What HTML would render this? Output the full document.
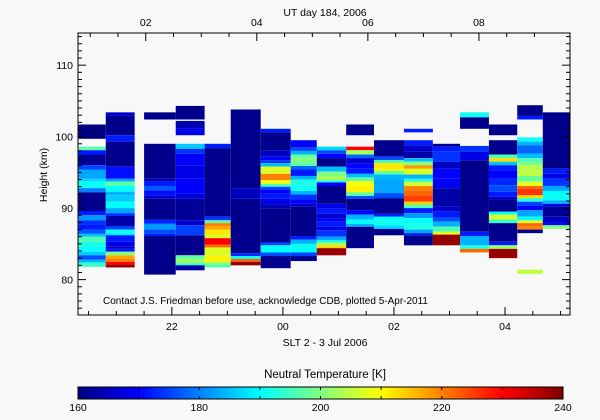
<!DOCTYPE html>
<html><head><meta charset="utf-8"><style>
html,body{margin:0;padding:0;background:#f8f8f8;}
svg{display:block;font-family:"Liberation Sans",sans-serif;}
</style></head><body>
<svg id="chart" width="600" height="420" viewBox="0 0 600 420" xmlns="http://www.w3.org/2000/svg">
<rect x="0" y="0" width="600" height="420" fill="#f8f8f8"/>
<g id="cells"></g>
<g id="axes"></g>
<text x="325" y="16" font-size="10.5" text-anchor="middle">UT day 184, 2006</text>
<text x="325" y="346" font-size="10.5" text-anchor="middle">SLT 2 - 3 Jul 2006</text>
<text transform="translate(47,175) rotate(-90)" font-size="10.5" text-anchor="middle">Height (km)</text>
<text x="103" y="304" font-size="10">Contact J.S. Friedman before use, acknowledge CDB, plotted 5-Apr-2011</text>
<text x="325" y="378" font-size="11.5" text-anchor="middle">Neutral Temperature [K]</text>
<g id="cbar"></g>
</svg>
<script>
// column time spans (SLT hours, past midnight continues >24)
const colStart = [20.32,20.81,21.50,22.07,22.59,23.06,23.60,24.14,24.61,25.14,25.64,26.18,26.70,27.19,27.71,28.22,28.68];
const colEnd   = [20.81,21.33,22.07,22.59,23.06,23.60,24.14,24.61,25.14,25.64,26.18,26.70,27.19,27.71,28.22,28.68,29.17];
const colBottom = [81.8,81.7,80.7,81.3,81.7,82.0,81.6,82.6,83.4,84.4,86.2,84.8,84.8,83.8,83.0,80.8,87.1];
// each column: [topKm, temperatureK] from top down; null = no data
const colCells = [
 [[101.7,160],[99.7,null],[98.6,197],[98.1,172],[97.5,162],[96.0,175],[95.4,183],[94.1,187],[93.7,191],[92.8,180],[92.2,161],[89.6,172],[89.0,182],[88.3,174],[87.7,172],[87.0,177],[86.4,185],[86.0,196],[85.3,192],[84.6,190],[83.9,186],[83.4,176],[82.8,184],[82.4,194]],
 [[103.4,166],[102.9,161],[100.2,172],[99.3,161],[95.8,171],[94.1,183],[93.7,197],[93.1,190],[92.3,184],[91.8,186],[90.9,190],[90.0,183],[89.3,174],[88.9,163],[87.5,175],[87.0,191],[86.5,188],[86.2,172],[85.3,168],[84.6,165],[84.3,172],[83.9,200],[83.4,217],[82.9,220],[82.5,230],[82.1,238]],
 [[103.4,161],[102.4,null],[99.0,161],[94.1,165],[93.7,172],[93.1,177],[92.5,171],[91.8,166],[91.3,161],[88.4,173],[87.8,182],[87.0,176],[86.4,172],[86.1,161]],
 [[104.3,161],[102.4,null],[102.2,164],[101.2,168],[100.2,null],[99.0,186],[98.3,174],[97.6,170],[96.0,168],[94.1,170],[92.0,167],[91.3,162],[88.3,166],[87.6,175],[86.2,161],[83.4,197],[82.9,202],[82.3,194],[82.0,163]],
 [[99.0,172],[98.4,161],[88.8,174],[88.3,197],[87.9,220],[87.5,217],[87.0,212],[86.3,207],[85.8,230],[84.9,222],[84.5,207],[83.4,211],[82.5,202],[82.1,196]],
 [[103.8,161],[92.8,165],[91.3,161],[83.7,173],[83.3,190],[82.9,222],[82.5,238]],
 [[101.1,172],[100.6,161],[98.1,165],[97.2,170],[96.7,174],[96.3,185],[95.8,208],[95.4,207],[94.8,220],[93.9,210],[93.4,196],[93.0,176],[92.6,170],[92.0,172],[91.3,168],[90.5,164],[89.9,161],[85.2,175],[84.8,190],[83.8,176],[83.3,161]],
 [[99.5,170],[98.5,175],[98.0,184],[97.5,198],[97.0,200],[96.4,197],[95.9,178],[95.4,172],[94.5,184],[94.0,192],[93.2,191],[92.4,184],[91.9,174],[91.2,170],[90.6,166],[90.2,161],[86.1,172],[85.6,184],[85.0,191],[84.5,190],[83.8,175],[83.3,161]],
 [[98.6,187],[98.1,176],[97.6,170],[97.0,161],[95.8,185],[95.1,200],[94.5,203],[93.9,193],[93.6,170],[93.1,161],[90.6,168],[89.9,172],[89.2,166],[88.5,170],[88.1,172],[87.4,168],[86.9,174],[86.0,183],[85.5,191],[85.2,203],[84.8,213],[84.4,238]],
 [[101.7,161],[100.2,null],[98.6,230],[98.1,203],[97.5,178],[97.0,166],[96.2,170],[95.5,172],[94.8,185],[94.3,197],[93.8,209],[93.1,211],[92.2,197],[91.7,176],[91.3,161],[89.7,170],[89.1,184],[88.4,190],[87.8,184],[87.4,161]],
 [[99.5,161],[97.2,176],[96.7,196],[96.3,212],[95.6,211],[95.2,197],[94.7,184],[94.0,183],[92.1,176],[91.4,161],[89.2,172],[88.8,190],[88.3,191],[87.6,187],[87.1,161]],
 [[101.1,172],[100.6,null],[99.5,172],[98.8,166],[97.9,163],[97.0,185],[96.5,200],[96.0,218],[95.5,207],[94.7,184],[94.1,192],[93.7,206],[93.1,220],[92.5,222],[91.8,225],[90.9,214],[90.5,196],[90.0,172],[89.3,182],[88.6,190],[87.9,192],[87.0,183],[86.5,172],[86.2,161]],
 [[99.0,161],[98.6,172],[97.9,174],[96.5,165],[95.5,170],[94.1,169],[92.8,163],[90.2,166],[89.5,172],[88.7,176],[88.1,184],[87.4,196],[86.7,208],[86.3,238]],
 [[103.4,191],[102.7,161],[101.1,null],[98.7,174],[97.9,168],[96.7,161],[86.7,172],[86.1,184],[84.8,192],[84.3,222]],
 [[101.7,161],[100.2,null],[99.5,161],[97.5,196],[97.0,213],[96.5,185],[96.0,172],[95.2,170],[94.1,173],[93.2,176],[92.3,172],[91.6,166],[91.2,161],[89.5,190],[89.1,207],[88.4,194],[87.9,161],[85.3,172],[84.8,202],[84.3,238]],
 [[104.4,161],[102.9,172],[102.4,null],[99.9,191],[99.3,184],[98.8,178],[97.6,185],[97.0,196],[96.4,200],[96.0,204],[95.3,205],[94.5,198],[93.7,208],[93.1,222],[92.7,226],[91.8,213],[91.4,193],[90.9,175],[90.3,170],[89.7,183],[88.8,190],[88.3,207],[87.9,222],[87.4,220],[87.0,161],[86.5,null],[81.4,205]],
 [[103.4,161],[95.5,172],[94.8,168],[94.1,174],[93.1,183],[92.4,190],[91.7,191],[91.1,184],[90.6,168],[90.2,162],[88.8,165],[88.0,170],[87.6,200]]
];
const yTicks = [80,90,100,110];
const sltTicks = [22,24,26,28];
const sltLabels = ["22","00","02","04"];
const utTicks = [2,4,6,8];
const utLabels = ["02","04","06","08"];
const utOffset = 4.47;
const cbTicks = [160,180,200,220,240];

const NS="http://www.w3.org/2000/svg";
const L=78,R=570,T=33,B=315;
const kmMin=75.05,kmMax=114.5, hMin=20.31, hMax=29.17;
const x=h=>L+(h-hMin)/(hMax-hMin)*(R-L);
const y=k=>B-(k-kmMin)/(kmMax-kmMin)*(B-T);
const stops=[[160,[0,0,128]],[170,[0,0,255]],[180,[0,128,255]],[190,[0,255,255]],[200,[128,255,128]],[210,[255,255,0]],[220,[255,128,0]],[230,[255,0,0]],[240,[128,0,0]]];
function cmap(v){v=Math.max(160,Math.min(240,v));for(let i=0;i<stops.length-1;i++){const a=stops[i],b=stops[i+1];if(v<=b[0]){const t=(v-a[0])/(b[0]-a[0]);const c=a[1].map((q,j)=>Math.round(q+(b[1][j]-q)*t));return `rgb(${c})`;}}return 'rgb(128,0,0)';}
function mk(tag,at,parent){const e=document.createElementNS(NS,tag);for(const k in at)e.setAttribute(k,at[k]);parent.appendChild(e);return e;}

const gc=document.getElementById('cells');
colCells.forEach((cells,ci)=>{
  const x0=x(colStart[ci]),x1=x(colEnd[ci]);
  cells.forEach((c,i)=>{
    if(c[1]===null)return;
    const bot=i+1<cells.length?cells[i+1][0]:colBottom[ci];
    const r=mk('rect',{x:x0.toFixed(2),y:y(c[0]).toFixed(2),width:(x1-x0).toFixed(2),height:(y(bot)-y(c[0])).toFixed(2),fill:cmap(c[1])},gc);
    
    
  });
});

const ga=document.getElementById('axes');
const fr=mk('rect',{x:L,y:T,width:R-L,height:B-T,fill:'none',stroke:'#000','stroke-width':1},ga);


for(let k=76;k<=114;k++){
  const major=yTicks.includes(k);const len=major?8:4;const yy=y(k);
  mk('line',{x1:L,x2:L+len,y1:yy,y2:yy,stroke:'#000'},ga);
  mk('line',{x1:R,x2:R-len,y1:yy,y2:yy,stroke:'#000'},ga);
}
yTicks.forEach(k=>{const t=mk('text',{x:L-5,y:y(k)+4,'font-size':10.5,'text-anchor':'end'},ga);t.textContent=k;
 
 });
for(let h=20.5;h<=29;h+=0.5){const major=sltTicks.includes(h);const len=major?8:4;mk('line',{x1:x(h),x2:x(h),y1:B,y2:B-len,stroke:'#000'},ga);}
sltTicks.forEach((h,i)=>{const t=mk('text',{x:x(h),y:B+15,'font-size':10.5,'text-anchor':'middle'},ga);t.textContent=sltLabels[i];
 
 });
for(let u=0.5;u<=9;u+=0.5){const h=u+24-utOffset;if(h<hMin||h>hMax)continue;const major=utTicks.includes(u);mk('line',{x1:x(h),x2:x(h),y1:T,y2:T+(major?8:4),stroke:'#000'},ga);}
utTicks.forEach((u,i)=>{const t=mk('text',{x:x(u+24-utOffset),y:T-7,'font-size':10.5,'text-anchor':'middle'},ga);t.textContent=utLabels[i];
 
 });

const gb=document.getElementById('cbar');
const cL=78,cR=563,cT=387,cB=399;
const cx=v=>cL+(v-160)/80*(cR-cL);
const defs=mk('defs',{},gb);const gr=mk('linearGradient',{id:'cg',x1:0,x2:1,y1:0,y2:0},defs);
stops.forEach(s=>mk('stop',{offset:((s[0]-160)/80).toFixed(3),'stop-color':cmap(s[0])},gr));
const cbr=mk('rect',{x:cL,y:cT,width:cR-cL,height:cB-cT,fill:'url(#cg)',stroke:'#000'},gb);


for(let v=170;v<240;v+=10){mk('line',{x1:cx(v),x2:cx(v),y1:cT,y2:cT+3,stroke:'#000'},gb);mk('line',{x1:cx(v),x2:cx(v),y1:cB,y2:cB-3,stroke:'#000'},gb);}
cbTicks.forEach(v=>{const t=mk('text',{x:cx(v),y:411,'font-size':10.5,'text-anchor':'middle'},gb);t.textContent=v;
 
 });
</script>
</body></html>
